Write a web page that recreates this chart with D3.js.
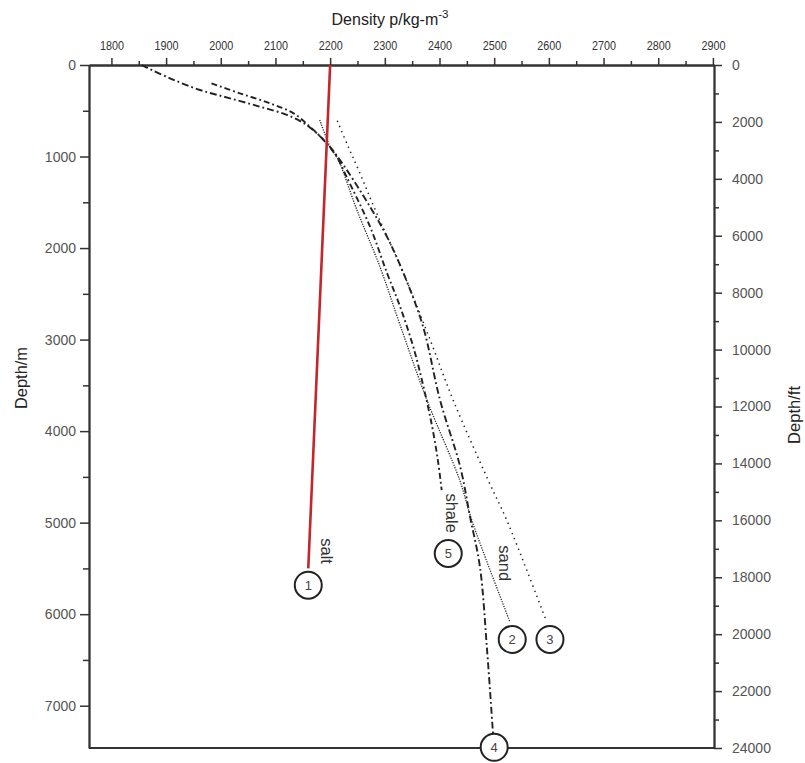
<!DOCTYPE html>
<html>
<head>
<meta charset="utf-8">
<script src="https://cdn.jsdelivr.net/npm/d3@7"></script>
<style>
  html, body { margin: 0; padding: 0; background: #fff; }
  svg { display: block; }
  .narrow { font-family: "Liberation Sans Narrow", "Arial Narrow", "Liberation Sans", Arial, sans-serif; }
  .side { font-family: "Liberation Sans", Arial, Helvetica, sans-serif; }
</style>
</head>
<body>
<svg id="chart" width="805" height="763"></svg>
<script>
// ---------- data ----------
const densityTicks = [1800, 1900, 2000, 2100, 2200, 2300, 2400, 2500, 2600, 2700, 2800, 2900];
const densityMinorTicks = [1850, 1950, 2050, 2150, 2250, 2350, 2450, 2550, 2650, 2750, 2850];
const depthMTicks = [0, 1000, 2000, 3000, 4000, 5000, 6000, 7000];
const depthMMinorTicks = [500, 1500, 2500, 3500, 4500, 5500, 6500];
const depthFtTicks = [0, 2000, 4000, 6000, 8000, 10000, 12000, 14000, 16000, 18000, 20000, 22000, 24000];
const depthFtMinorTicks = [1000, 3000, 5000, 7000, 9000, 11000, 13000, 15000, 17000, 19000, 21000, 23000];

// curve 1 : salt
const saltDensity = [2200, 2160];
const saltDepth = [0, 5500];
// curve 2 : sand (fine dotted)
const sandDensity = [2181, 2200, 2215, 2249, 2291, 2328, 2377, 2437, 2459, 2529];
const sandDepth = [601, 893, 1038, 1585, 2204, 2842, 3661, 4536, 4973, 6087];
// curve 3 : sparse dotted
const curve3Density = [2213, 2233, 2252, 2285, 2334, 2383, 2425, 2489, 2523, 2596];
const curve3Depth = [609, 893, 1148, 1617, 2273, 3005, 3661, 4536, 4973, 6084];
// curve 4 : long dash-dot
const curve4Density = [1855, 1907, 1962, 2017, 2072, 2121, 2157, 2194, 2218, 2273, 2304, 2334, 2370, 2401, 2438, 2456, 2474, 2487, 2498];
const curve4Depth = [0, 145, 273, 364, 456, 546, 656, 856, 1038, 1549, 1877, 2273, 2860, 3661, 4393, 4940, 5486, 6393, 7322];
// curve 5 : shale dash-dot
const shaleDensity = [1983, 2035, 2090, 2133, 2163, 2188, 2212, 2230, 2273, 2304, 2328, 2352, 2370, 2386, 2397, 2404];
const shaleDepth = [200, 309, 419, 528, 674, 820, 1002, 1221, 1767, 2273, 2641, 3079, 3497, 3934, 4317, 4645];

// numbered markers
const markerLabels = ["1", "2", "3", "4", "5"];
const markerDensity = [2160, 2533, 2602, 2500, 2416];
const markerDepth = [5683, 6276, 6276, 7455, 5337];

// curve names
const nameLabels = ["salt", "shale", "sand"];
const nameDensity = [2194, 2422, 2520];
const nameDepth = [5311, 4896, 5443];

// ---------- layout ----------
const W = 805, H = 763;
const margin = { left: 89, right: 91, top: 65, bottom: 15 };
const svg = d3.select("#chart");

const x = d3.scaleLinear().domain([1759, 2902]).range([margin.left, W - margin.right]);
const yM = d3.scaleLinear().domain([0, 7462]).range([margin.top, H - margin.bottom]);
const yFt = d3.scaleLinear().domain([0, 24000]).range([margin.top, H - margin.bottom]);

const axisColor = "#333";

// bottom frame line
svg.append("line").attr("x1", x.range()[0]).attr("x2", x.range()[1])
  .attr("y1", yM.range()[1]).attr("y2", yM.range()[1])
  .attr("stroke", axisColor).attr("stroke-width", 1.8);

function styleAxis(g) {
  g.select(".domain").attr("stroke", axisColor).attr("stroke-width", 1.8);
  g.selectAll(".tick line").attr("stroke", axisColor).attr("stroke-width", 1.5);
}

// top axis
const gTop = svg.append("g").attr("transform", `translate(0,${margin.top})`)
  .call(d3.axisTop(x).tickValues(densityTicks).tickSize(7).tickPadding(8).tickSizeOuter(0).tickFormat(d => d))
  .call(styleAxis);
gTop.selectAll(".tick text").attr("class", "narrow").attr("font-size", 13.5).attr("fill", "#333")
  .attr("textLength", 24).attr("lengthAdjust", "spacingAndGlyphs");
svg.append("g").attr("transform", `translate(0,${margin.top})`)
  .call(d3.axisTop(x).tickValues(densityMinorTicks).tickSize(4).tickSizeOuter(0).tickFormat(""))
  .call(styleAxis);

// left axis
const gLeft = svg.append("g").attr("transform", `translate(${margin.left},0)`)
  .call(d3.axisLeft(yM).tickValues(depthMTicks).tickSize(9).tickPadding(4).tickSizeOuter(0).tickFormat(d => d))
  .call(styleAxis);
gLeft.selectAll(".tick text").attr("class", "side").attr("font-size", 14).attr("fill", "#555");
svg.append("g").attr("transform", `translate(${margin.left},0)`)
  .call(d3.axisLeft(yM).tickValues(depthMMinorTicks).tickSize(6).tickSizeOuter(0).tickFormat(""))
  .call(styleAxis);

// right axis
const gRight = svg.append("g").attr("transform", `translate(${W - margin.right},0)`)
  .call(d3.axisRight(yFt).tickValues(depthFtTicks).tickSize(8).tickPadding(10).tickSizeOuter(0).tickFormat(d => d))
  .call(styleAxis);
gRight.selectAll(".tick text").attr("class", "side").attr("font-size", 14).attr("fill", "#555");
svg.append("g").attr("transform", `translate(${W - margin.right},0)`)
  .call(d3.axisRight(yFt).tickValues(depthFtMinorTicks).tickSize(5).tickSizeOuter(0).tickFormat(""))
  .call(styleAxis);

// axis titles
const title = svg.append("text").attr("class", "narrow")
  .attr("x", 390).attr("y", 25).attr("text-anchor", "middle")
  .attr("font-size", 16).attr("fill", "#222");
title.append("tspan").text("Density p/kg-m");
title.append("tspan").attr("dy", -7).attr("font-size", 11.5).text("-3");

svg.append("text").attr("class", "narrow")
  .attr("transform", "translate(27,378) rotate(-90)")
  .attr("text-anchor", "middle").attr("font-size", 17).attr("fill", "#222")
  .attr("textLength", 62).attr("lengthAdjust", "spacingAndGlyphs").text("Depth/m");
svg.append("text").attr("class", "narrow")
  .attr("transform", "translate(800,415) rotate(-90)")
  .attr("text-anchor", "middle").attr("font-size", 17).attr("fill", "#222")
  .attr("textLength", 58).attr("lengthAdjust", "spacingAndGlyphs").text("Depth/ft");

// ---------- curves ----------
function pts(dens, dep) { return dens.map((d, i) => [d, dep[i]]); }
const line = d3.line().x(d => x(d[0])).y(d => yM(d[1])).curve(d3.curveCatmullRom.alpha(0.5));

const curves = [
  { data: pts(sandDensity, sandDepth), dash: "1.2,1.3", width: 1.3, color: "#222" },
  { data: pts(curve3Density, curve3Depth), dash: "1.4,4.2", width: 1.5, color: "#222" },
  { data: pts(curve4Density, curve4Depth), dash: "7,3,1.8,3", width: 1.9, color: "#222" },
  { data: pts(shaleDensity, shaleDepth), dash: "6,3,1.8,3", width: 1.9, color: "#222" },
  { data: pts(saltDensity, saltDepth), dash: null, width: 2.6, color: "#c3262b" }
];
svg.append("g").selectAll("path").data(curves).join("path")
  .attr("d", c => line(c.data))
  .attr("fill", "none")
  .attr("stroke", c => c.color)
  .attr("stroke-width", c => c.width)
  .attr("stroke-dasharray", c => c.dash);

// curve names
svg.append("g").selectAll("text").data(nameLabels).join("text")
  .attr("class", "side")
  .attr("transform", (d, i) => `translate(${x(nameDensity[i])},${yM(nameDepth[i])}) rotate(90)`)
  .attr("text-anchor", "middle").attr("dy", "0.35em")
  .attr("font-size", 16.5).attr("fill", "#333").text(d => d);

// numbered circles
const mk = svg.append("g").selectAll("g").data(markerLabels).join("g")
  .attr("transform", (d, i) => `translate(${x(markerDensity[i])},${yM(markerDepth[i])})`);
mk.append("circle").attr("r", 13.5).attr("fill", "#fff").attr("stroke", "#222").attr("stroke-width", 2);
mk.append("text").attr("class", "side").attr("text-anchor", "middle").attr("dy", "0.36em")
  .attr("font-size", 13).attr("fill", "#444").text(d => d);
</script>
</body>
</html>
